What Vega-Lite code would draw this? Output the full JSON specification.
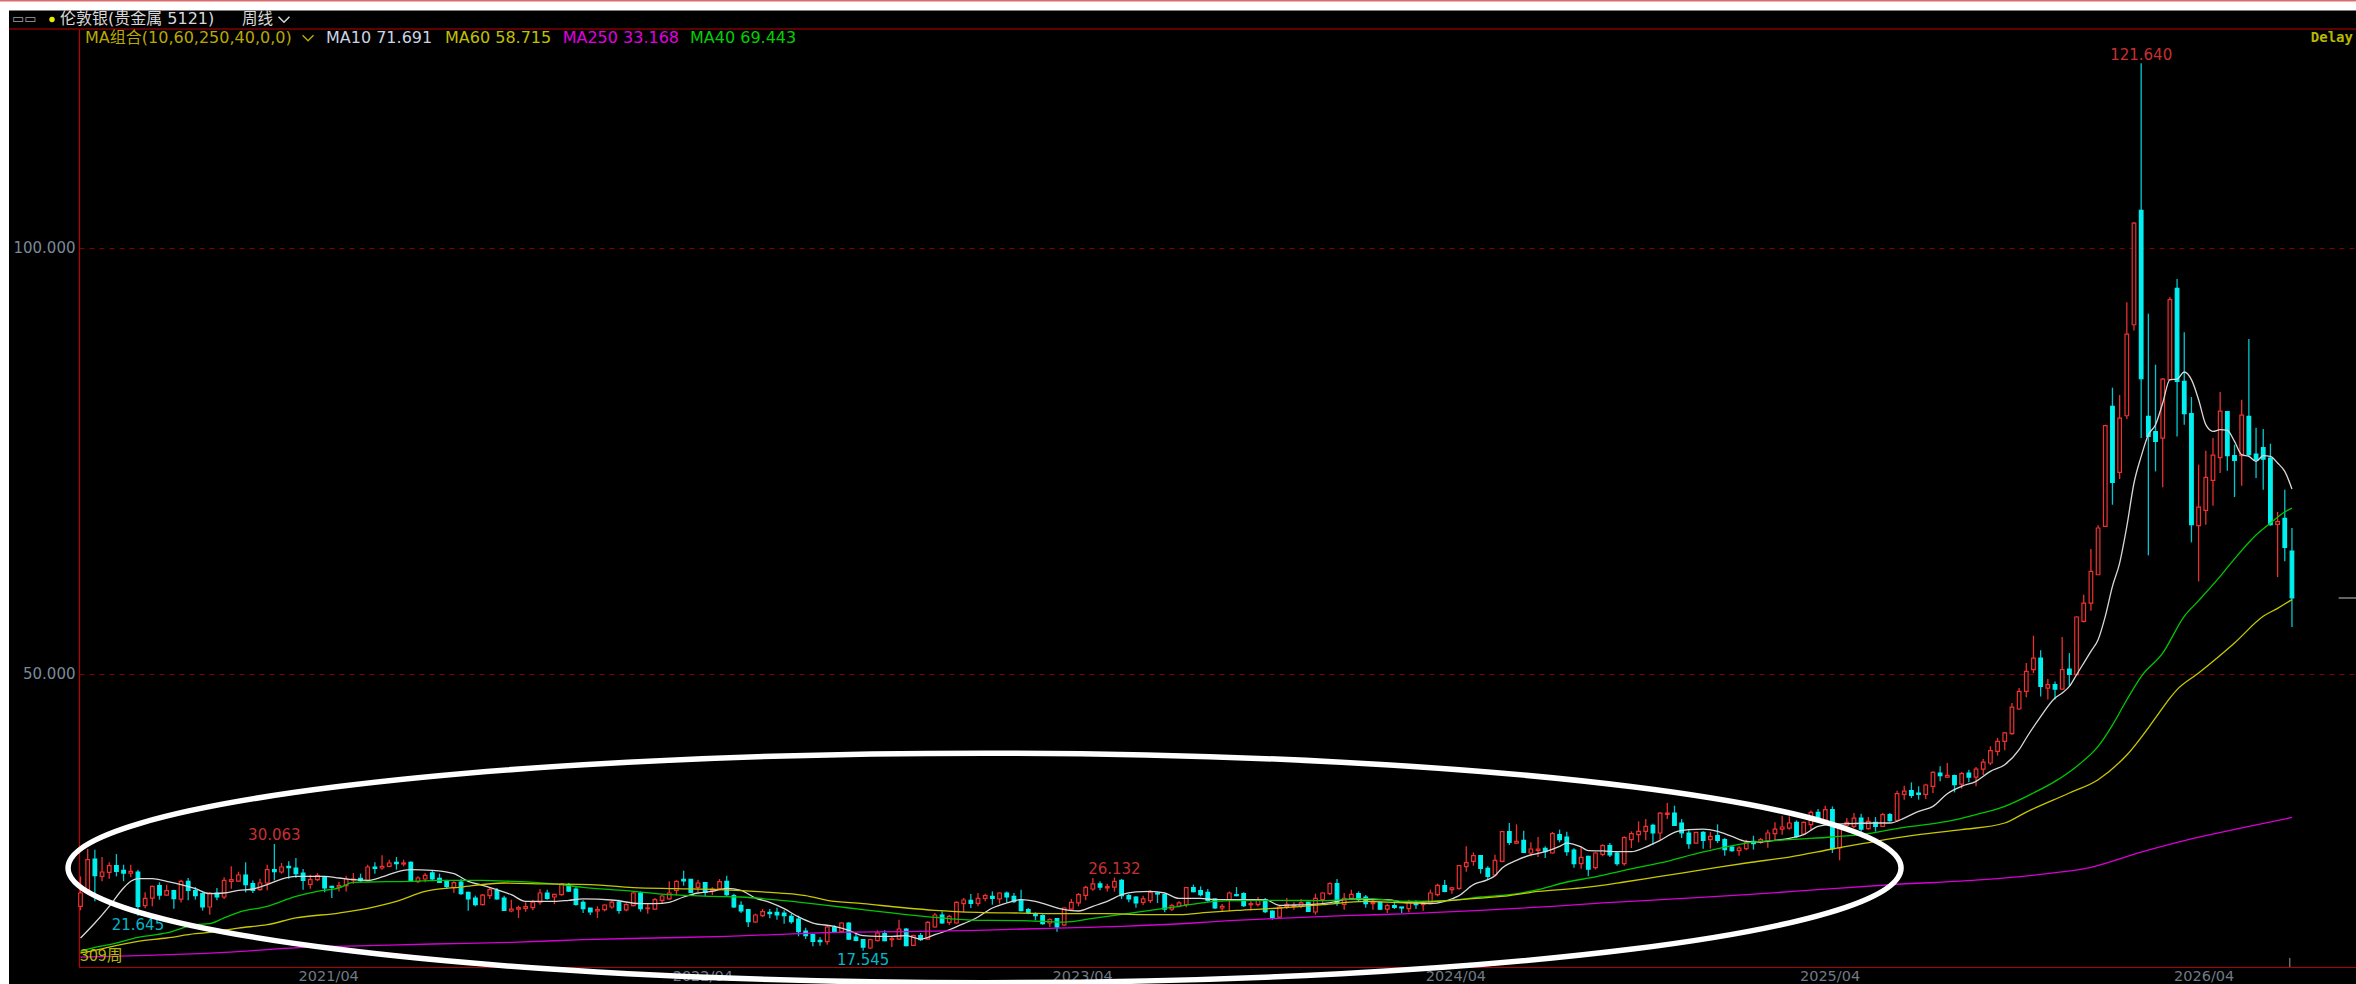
{"$schema":"https://vega.github.io/schema/vega-lite/v6.json","width":2277,"height":938,"autosize":"none","padding":{"left":79,"top":29,"right":0,"bottom":17},"background":"#000000","config":{"view":{"stroke":null},"axis":{"title":null}},
"datasets":{"one":[{"a":1}],"candles":[
{"w":0,"o":22.75,"h":26.26,"l":22.28,"c":24.31},{"w":1,"o":24.7,"h":29.47,"l":24.5,"c":28.22},{"w":2,"o":28.3,"h":29.39,"l":23.33,"c":26.34},{"w":3,"o":26.26,"h":28.53,"l":25.68,"c":26.77},{"w":4,"o":26.73,"h":27.91,"l":25.99,"c":27.52},{"w":5,"o":27.52,"h":28.88,"l":26.26,"c":26.85},{"w":6,"o":26.97,"h":27.63,"l":25.68,"c":26.65},{"w":7,"o":26.65,"h":27.63,"l":26.18,"c":26.85},{"w":8,"o":26.77,"h":27.05,"l":21.645,"c":22.75},{"w":9,"o":22.82,"h":24.39,"l":22.51,"c":23.68},
{"w":10,"o":23.72,"h":25.17,"l":22.75,"c":25.09},{"w":11,"o":25.17,"h":25.56,"l":23.53,"c":24.07},{"w":12,"o":24.07,"h":25.29,"l":24.0,"c":24.58},{"w":13,"o":24.58,"h":24.7,"l":22.47,"c":23.64},{"w":14,"o":23.6,"h":25.87,"l":23.21,"c":25.68},{"w":15,"o":25.68,"h":26.07,"l":23.45,"c":24.62},{"w":16,"o":24.58,"h":25.01,"l":23.53,"c":24.0},{"w":17,"o":24.23,"h":24.39,"l":22.24,"c":22.67},{"w":18,"o":22.67,"h":24.43,"l":21.77,"c":24.31},{"w":19,"o":24.31,"h":24.9,"l":23.45,"c":23.84},
{"w":20,"o":23.84,"h":26.15,"l":23.6,"c":25.79},{"w":21,"o":25.68,"h":27.44,"l":24.82,"c":25.87},{"w":22,"o":25.71,"h":26.81,"l":25.64,"c":26.42},{"w":23,"o":26.42,"h":27.91,"l":24.39,"c":25.29},{"w":24,"o":25.4,"h":25.79,"l":24.31,"c":24.62},{"w":25,"o":24.7,"h":25.99,"l":24.58,"c":25.48},{"w":26,"o":25.48,"h":27.63,"l":24.62,"c":27.05},{"w":27,"o":27.05,"h":30.063,"l":25.79,"c":26.81},{"w":28,"o":26.77,"h":27.83,"l":26.58,"c":27.36},{"w":29,"o":27.44,"h":28.02,"l":25.99,"c":27.28},
{"w":30,"o":27.24,"h":28.41,"l":26.07,"c":26.58},{"w":31,"o":26.65,"h":27.12,"l":24.7,"c":25.79},{"w":32,"o":25.33,"h":26.46,"l":24.82,"c":25.87},{"w":33,"o":25.87,"h":26.65,"l":25.71,"c":26.34},{"w":34,"o":26.19,"h":26.26,"l":24.39,"c":24.9},{"w":35,"o":25.09,"h":25.17,"l":23.72,"c":24.97},{"w":36,"o":25.01,"h":25.64,"l":24.5,"c":25.17},{"w":37,"o":25.17,"h":26.34,"l":24.5,"c":25.95},{"w":38,"o":25.83,"h":26.65,"l":25.4,"c":25.95},{"w":39,"o":26.03,"h":26.58,"l":25.56,"c":25.76},
{"w":40,"o":25.79,"h":27.63,"l":25.68,"c":27.36},{"w":41,"o":27.36,"h":27.91,"l":26.58,"c":27.2},{"w":42,"o":27.24,"h":28.73,"l":27.05,"c":27.44},{"w":43,"o":27.44,"h":28.22,"l":27.32,"c":27.83},{"w":44,"o":27.91,"h":28.53,"l":27.05,"c":27.75},{"w":45,"o":27.71,"h":28.22,"l":27.44,"c":27.83},{"w":46,"o":27.91,"h":28.02,"l":25.6,"c":25.68},{"w":47,"o":25.64,"h":26.26,"l":25.48,"c":26.07},{"w":48,"o":25.95,"h":26.65,"l":25.56,"c":26.38},{"w":49,"o":26.66,"h":26.97,"l":25.8,"c":25.95},
{"w":50,"o":26.03,"h":26.58,"l":25.48,"c":25.56},{"w":51,"o":25.76,"h":25.87,"l":24.78,"c":25.09},{"w":52,"o":24.97,"h":25.8,"l":24.31,"c":25.52},{"w":53,"o":25.6,"h":25.95,"l":24.11,"c":24.23},{"w":54,"o":24.39,"h":24.47,"l":22.24,"c":23.61},{"w":55,"o":23.72,"h":24.0,"l":22.75,"c":22.94},{"w":56,"o":22.94,"h":24.19,"l":22.86,"c":24.07},{"w":57,"o":24.0,"h":24.9,"l":23.61,"c":24.7},{"w":58,"o":24.58,"h":24.9,"l":23.53,"c":23.61},{"w":59,"o":23.72,"h":24.0,"l":22.2,"c":22.28},
{"w":60,"o":22.2,"h":23.53,"l":22.04,"c":22.43},{"w":61,"o":22.43,"h":22.82,"l":21.38,"c":22.59},{"w":62,"o":22.51,"h":23.22,"l":22.12,"c":22.71},{"w":63,"o":22.59,"h":23.53,"l":22.28,"c":23.25},{"w":64,"o":23.25,"h":24.78,"l":22.94,"c":24.31},{"w":65,"o":24.31,"h":24.7,"l":23.53,"c":23.68},{"w":66,"o":23.84,"h":24.23,"l":23.02,"c":24.15},{"w":67,"o":24.11,"h":25.48,"l":24.0,"c":25.37},{"w":68,"o":25.29,"h":25.48,"l":24.47,"c":24.54},{"w":69,"o":24.78,"h":25.01,"l":22.82,"c":22.98},
{"w":70,"o":23.22,"h":23.45,"l":21.96,"c":22.47},{"w":71,"o":22.55,"h":22.55,"l":21.73,"c":22.08},{"w":72,"o":22.2,"h":22.75,"l":21.38,"c":22.36},{"w":73,"o":22.36,"h":22.98,"l":22.16,"c":22.9},{"w":74,"o":22.67,"h":23.41,"l":22.47,"c":23.25},{"w":75,"o":23.25,"h":23.53,"l":21.89,"c":22.28},{"w":76,"o":22.32,"h":23.1,"l":22.16,"c":22.94},{"w":77,"o":22.82,"h":24.5,"l":22.75,"c":24.31},{"w":78,"o":24.31,"h":24.5,"l":22.12,"c":22.47},{"w":79,"o":22.47,"h":23.02,"l":21.89,"c":22.55},
{"w":80,"o":22.43,"h":23.72,"l":22.36,"c":23.53},{"w":81,"o":23.45,"h":24.11,"l":23.14,"c":23.96},{"w":82,"o":23.61,"h":25.68,"l":23.53,"c":24.31},{"w":83,"o":24.62,"h":25.8,"l":24.04,"c":25.68},{"w":84,"o":25.91,"h":26.93,"l":25.17,"c":25.72},{"w":85,"o":25.91,"h":25.95,"l":24.31,"c":24.39},{"w":86,"o":24.97,"h":25.87,"l":24.43,"c":25.48},{"w":87,"o":25.52,"h":25.6,"l":23.92,"c":24.39},{"w":88,"o":24.62,"h":24.97,"l":24.07,"c":24.78},{"w":89,"o":24.82,"h":25.95,"l":24.7,"c":25.64},
{"w":90,"o":25.68,"h":26.34,"l":23.92,"c":24.11},{"w":91,"o":24.0,"h":24.23,"l":22.55,"c":22.67},{"w":92,"o":22.86,"h":23.33,"l":21.96,"c":22.2},{"w":93,"o":22.36,"h":22.36,"l":20.32,"c":20.95},{"w":94,"o":20.91,"h":21.89,"l":20.79,"c":21.73},{"w":95,"o":21.65,"h":22.43,"l":21.5,"c":22.12},{"w":96,"o":22.04,"h":22.43,"l":21.34,"c":21.89},{"w":97,"o":22.04,"h":22.59,"l":21.18,"c":21.73},{"w":98,"o":21.96,"h":22.28,"l":20.71,"c":21.65},{"w":99,"o":21.57,"h":21.89,"l":20.71,"c":20.95},
{"w":100,"o":21.26,"h":21.65,"l":19.23,"c":19.77},{"w":101,"o":19.85,"h":20.24,"l":18.91,"c":19.3},{"w":102,"o":19.42,"h":19.54,"l":18.05,"c":18.64},{"w":103,"o":18.76,"h":19.11,"l":18.13,"c":18.6},{"w":104,"o":18.6,"h":20.56,"l":18.25,"c":20.32},{"w":105,"o":20.28,"h":20.52,"l":19.62,"c":19.73},{"w":106,"o":19.81,"h":20.87,"l":19.7,"c":20.79},{"w":107,"o":20.79,"h":20.87,"l":18.84,"c":18.91},{"w":108,"o":19.15,"h":19.54,"l":18.64,"c":18.76},{"w":109,"o":18.84,"h":18.91,"l":17.545,"c":17.97},
{"w":110,"o":17.86,"h":18.95,"l":17.74,"c":18.84},{"w":111,"o":18.72,"h":19.93,"l":18.64,"c":19.62},{"w":112,"o":19.54,"h":19.93,"l":18.64,"c":18.72},{"w":113,"o":18.84,"h":19.23,"l":17.97,"c":18.95},{"w":114,"o":18.91,"h":21.18,"l":18.84,"c":20.09},{"w":115,"o":20.09,"h":20.2,"l":18.05,"c":18.13},{"w":116,"o":18.17,"h":19.42,"l":18.13,"c":19.3},{"w":117,"o":19.3,"h":19.62,"l":18.68,"c":18.84},{"w":118,"o":18.91,"h":20.99,"l":18.84,"c":20.87},{"w":119,"o":20.32,"h":21.96,"l":20.24,"c":21.73},
{"w":120,"o":21.73,"h":22.16,"l":20.71,"c":20.79},{"w":121,"o":20.87,"h":21.73,"l":20.56,"c":21.57},{"w":122,"o":20.79,"h":23.33,"l":20.71,"c":23.22},{"w":123,"o":23.06,"h":23.72,"l":22.04,"c":23.49},{"w":124,"o":23.45,"h":24.19,"l":22.55,"c":23.1},{"w":125,"o":23.1,"h":24.31,"l":22.75,"c":23.68},{"w":126,"o":23.68,"h":24.23,"l":23.33,"c":24.0},{"w":127,"o":23.92,"h":24.5,"l":22.94,"c":23.68},{"w":128,"o":23.61,"h":24.39,"l":23.06,"c":24.31},{"w":129,"o":24.31,"h":24.5,"l":23.25,"c":23.84},
{"w":130,"o":23.92,"h":24.31,"l":23.14,"c":23.29},{"w":131,"o":23.53,"h":24.7,"l":22.16,"c":22.24},{"w":132,"o":22.36,"h":22.55,"l":21.81,"c":22.04},{"w":133,"o":21.81,"h":22.04,"l":21.1,"c":21.65},{"w":134,"o":21.65,"h":21.81,"l":20.6,"c":20.71},{"w":135,"o":20.79,"h":21.34,"l":20.32,"c":21.18},{"w":136,"o":21.3,"h":21.34,"l":19.77,"c":20.32},{"w":137,"o":20.56,"h":22.59,"l":20.48,"c":22.55},{"w":138,"o":22.43,"h":23.61,"l":22.36,"c":23.22},{"w":139,"o":23.14,"h":24.31,"l":22.75,"c":24.11},
{"w":140,"o":24.04,"h":25.17,"l":23.45,"c":24.97},{"w":141,"o":24.78,"h":26.07,"l":24.58,"c":25.37},{"w":142,"o":25.37,"h":25.68,"l":24.62,"c":25.01},{"w":143,"o":24.9,"h":25.4,"l":24.5,"c":25.05},{"w":144,"o":25.01,"h":26.132,"l":24.47,"c":25.68},{"w":145,"o":25.8,"h":25.95,"l":23.61,"c":24.0},{"w":146,"o":24.0,"h":24.19,"l":23.22,"c":23.61},{"w":147,"o":23.84,"h":23.92,"l":22.59,"c":23.14},{"w":148,"o":23.22,"h":24.0,"l":22.9,"c":23.61},{"w":149,"o":23.41,"h":24.62,"l":23.14,"c":24.39},
{"w":150,"o":24.31,"h":24.43,"l":23.14,"c":24.19},{"w":151,"o":24.11,"h":24.23,"l":22.04,"c":22.43},{"w":152,"o":22.43,"h":23.06,"l":22.2,"c":22.82},{"w":153,"o":22.75,"h":23.33,"l":22.63,"c":23.14},{"w":154,"o":22.94,"h":25.01,"l":22.63,"c":24.94},{"w":155,"o":24.94,"h":25.29,"l":24.39,"c":24.47},{"w":156,"o":24.58,"h":25.09,"l":23.92,"c":24.11},{"w":157,"o":24.39,"h":24.78,"l":23.29,"c":23.45},{"w":158,"o":23.61,"h":23.68,"l":22.43,"c":22.55},{"w":159,"o":22.55,"h":23.02,"l":22.12,"c":22.75},
{"w":160,"o":23.53,"h":24.5,"l":22.16,"c":24.31},{"w":161,"o":24.11,"h":25.01,"l":23.92,"c":24.0},{"w":162,"o":24.23,"h":24.39,"l":22.67,"c":22.82},{"w":163,"o":22.94,"h":23.33,"l":22.27,"c":23.06},{"w":164,"o":22.94,"h":23.84,"l":22.74,"c":23.45},{"w":165,"o":23.53,"h":23.72,"l":21.96,"c":22.12},{"w":166,"o":22.2,"h":22.27,"l":21.18,"c":21.38},{"w":167,"o":21.49,"h":22.82,"l":21.42,"c":22.67},{"w":168,"o":22.74,"h":23.72,"l":22.43,"c":22.98},{"w":169,"o":22.74,"h":23.25,"l":22.35,"c":22.82},
{"w":170,"o":22.74,"h":23.6,"l":22.51,"c":23.14},{"w":171,"o":23.21,"h":23.29,"l":22.08,"c":22.16},{"w":172,"o":22.08,"h":24.23,"l":21.77,"c":23.68},{"w":173,"o":23.53,"h":24.39,"l":23.14,"c":24.31},{"w":174,"o":24.23,"h":25.56,"l":24.07,"c":25.4},{"w":175,"o":25.4,"h":25.95,"l":22.82,"c":23.14},{"w":176,"o":22.98,"h":24.31,"l":22.35,"c":23.68},{"w":177,"o":23.68,"h":24.7,"l":23.53,"c":24.15},{"w":178,"o":24.23,"h":24.5,"l":23.37,"c":23.53},{"w":179,"o":23.84,"h":24.07,"l":22.59,"c":23.06},
{"w":180,"o":23.06,"h":23.72,"l":22.35,"c":23.21},{"w":181,"o":23.21,"h":23.33,"l":22.35,"c":22.43},{"w":182,"o":22.43,"h":23.06,"l":21.96,"c":22.82},{"w":183,"o":22.82,"h":23.33,"l":22.43,"c":22.63},{"w":184,"o":22.67,"h":22.67,"l":21.96,"c":22.55},{"w":185,"o":22.47,"h":23.53,"l":22.04,"c":23.33},{"w":186,"o":23.21,"h":23.45,"l":22.43,"c":22.94},{"w":187,"o":22.94,"h":23.33,"l":22.24,"c":23.14},{"w":188,"o":23.14,"h":24.7,"l":22.98,"c":24.31},{"w":189,"o":24.11,"h":25.4,"l":23.92,"c":25.21},
{"w":190,"o":25.17,"h":25.84,"l":24.39,"c":24.5},{"w":191,"o":24.7,"h":25.01,"l":24.23,"c":24.9},{"w":192,"o":24.86,"h":27.59,"l":24.7,"c":27.51},{"w":193,"o":27.4,"h":29.78,"l":26.81,"c":27.87},{"w":194,"o":28.02,"h":29.08,"l":27.51,"c":28.69},{"w":195,"o":28.69,"h":28.77,"l":26.58,"c":27.2},{"w":196,"o":27.2,"h":27.44,"l":25.95,"c":26.26},{"w":197,"o":26.42,"h":28.81,"l":26.26,"c":28.14},{"w":198,"o":28.02,"h":31.62,"l":27.91,"c":31.5},{"w":199,"o":31.5,"h":32.52,"l":29.94,"c":30.25},
{"w":200,"o":30.17,"h":32.36,"l":30.06,"c":30.37},{"w":201,"o":30.49,"h":31.62,"l":29.0,"c":29.08},{"w":202,"o":29.0,"h":30.25,"l":28.61,"c":29.47},{"w":203,"o":29.31,"h":30.88,"l":28.53,"c":29.47},{"w":204,"o":29.55,"h":29.78,"l":28.41,"c":29.16},{"w":205,"o":29.0,"h":31.46,"l":28.92,"c":31.27},{"w":206,"o":31.15,"h":31.74,"l":30.25,"c":30.57},{"w":207,"o":30.88,"h":31.5,"l":28.69,"c":29.16},{"w":208,"o":29.35,"h":29.55,"l":27.28,"c":27.75},{"w":209,"o":27.75,"h":29.71,"l":27.16,"c":28.49},
{"w":210,"o":28.61,"h":28.69,"l":26.26,"c":27.12},{"w":211,"o":27.28,"h":29.08,"l":27.05,"c":29.0},{"w":212,"o":28.84,"h":30.02,"l":28.61,"c":29.86},{"w":213,"o":29.86,"h":30.17,"l":28.53,"c":28.77},{"w":214,"o":29.0,"h":29.2,"l":27.51,"c":27.75},{"w":215,"o":27.75,"h":30.96,"l":27.51,"c":30.8},{"w":216,"o":30.56,"h":31.54,"l":29.59,"c":31.27},{"w":217,"o":31.15,"h":32.71,"l":30.25,"c":31.54},{"w":218,"o":31.54,"h":32.99,"l":30.49,"c":32.13},{"w":219,"o":32.24,"h":32.44,"l":29.98,"c":31.35},
{"w":220,"o":31.35,"h":33.77,"l":30.56,"c":33.69},{"w":221,"o":33.53,"h":34.86,"l":32.99,"c":33.69},{"w":222,"o":33.69,"h":34.55,"l":32.21,"c":32.24},{"w":223,"o":32.52,"h":32.99,"l":30.76,"c":31.35},{"w":224,"o":31.35,"h":31.66,"l":29.51,"c":30.09},{"w":225,"o":30.17,"h":31.46,"l":30.13,"c":31.42},{"w":226,"o":31.42,"h":31.54,"l":29.51,"c":30.48},{"w":227,"o":30.56,"h":31.46,"l":29.51,"c":30.95},{"w":228,"o":31.03,"h":32.36,"l":30.17,"c":30.48},{"w":229,"o":30.56,"h":30.76,"l":28.69,"c":29.39},
{"w":230,"o":29.7,"h":29.86,"l":29.16,"c":29.27},{"w":231,"o":29.27,"h":29.78,"l":28.69,"c":29.59},{"w":232,"o":29.51,"h":30.56,"l":29.31,"c":30.25},{"w":233,"o":30.37,"h":31.03,"l":29.39,"c":30.09},{"w":234,"o":30.25,"h":30.76,"l":30.09,"c":30.56},{"w":235,"o":30.37,"h":31.74,"l":29.62,"c":31.35},{"w":236,"o":31.27,"h":32.6,"l":30.49,"c":31.81},{"w":237,"o":31.81,"h":33.38,"l":31.15,"c":32.05},{"w":238,"o":31.93,"h":33.3,"l":31.74,"c":32.52},{"w":239,"o":32.6,"h":32.83,"l":30.76,"c":30.95},
{"w":240,"o":31.23,"h":32.71,"l":31.15,"c":32.6},{"w":241,"o":32.32,"h":34.0,"l":31.66,"c":33.77},{"w":242,"o":33.77,"h":34.16,"l":32.52,"c":32.91},{"w":243,"o":32.83,"h":34.55,"l":32.67,"c":34.08},{"w":244,"o":34.08,"h":34.47,"l":29.0,"c":29.51},{"w":245,"o":29.59,"h":32.32,"l":28.14,"c":32.13},{"w":246,"o":32.28,"h":33.1,"l":32.05,"c":32.6},{"w":247,"o":32.13,"h":33.69,"l":31.93,"c":33.1},{"w":248,"o":33.1,"h":33.61,"l":31.5,"c":31.81},{"w":249,"o":31.85,"h":33.22,"l":31.74,"c":32.71},
{"w":250,"o":32.6,"h":33.22,"l":31.5,"c":32.13},{"w":251,"o":32.13,"h":33.69,"l":32.05,"c":33.5},{"w":252,"o":33.5,"h":33.69,"l":32.67,"c":32.79},{"w":253,"o":32.83,"h":36.31,"l":32.67,"c":35.96},{"w":254,"o":35.88,"h":36.9,"l":35.26,"c":36.27},{"w":255,"o":36.31,"h":37.29,"l":35.45,"c":35.76},{"w":256,"o":36.04,"h":36.82,"l":35.26,"c":35.88},{"w":257,"o":35.88,"h":37.13,"l":35.33,"c":36.98},{"w":258,"o":36.82,"h":38.58,"l":36.04,"c":38.46},{"w":259,"o":38.38,"h":39.17,"l":37.41,"c":38.07},
{"w":260,"o":37.91,"h":39.56,"l":37.84,"c":38.11},{"w":261,"o":38.07,"h":38.19,"l":36.11,"c":37.01},{"w":262,"o":37.09,"h":38.5,"l":36.58,"c":38.3},{"w":263,"o":38.38,"h":38.77,"l":37.29,"c":37.91},{"w":264,"o":37.91,"h":39.09,"l":36.82,"c":38.85},{"w":265,"o":38.85,"h":40.03,"l":38.15,"c":39.67},{"w":266,"o":39.56,"h":41.51,"l":39.32,"c":41.0},{"w":267,"o":40.92,"h":42.49,"l":40.42,"c":42.1},{"w":268,"o":42.1,"h":43.15,"l":41.04,"c":43.08},{"w":269,"o":43.0,"h":46.59,"l":42.88,"c":46.12},
{"w":270,"o":45.89,"h":48.35,"l":45.81,"c":47.96},{"w":271,"o":47.96,"h":51.29,"l":47.26,"c":50.31},{"w":272,"o":50.5,"h":54.49,"l":50.11,"c":51.87},{"w":273,"o":51.87,"h":52.77,"l":47.37,"c":48.54},{"w":274,"o":48.35,"h":49.4,"l":47.0,"c":48.74},{"w":275,"o":48.74,"h":49.13,"l":47.0,"c":48.23},{"w":276,"o":48.23,"h":54.33,"l":48.15,"c":50.5},{"w":277,"o":50.58,"h":52.45,"l":48.54,"c":49.95},{"w":278,"o":49.91,"h":56.76,"l":49.8,"c":56.68},{"w":279,"o":56.17,"h":59.3,"l":56.05,"c":58.32},
{"w":280,"o":58.32,"h":64.65,"l":57.42,"c":62.03},{"w":281,"o":61.64,"h":67.43,"l":61.64,"c":67.12},{"w":282,"o":67.31,"h":79.24,"l":67.23,"c":79.12},{"w":283,"o":81.39,"h":83.58,"l":69.85,"c":72.47},{"w":284,"o":73.65,"h":82.72,"l":72.86,"c":80.02},{"w":285,"o":80.29,"h":93.59,"l":79.9,"c":89.87},{"w":286,"o":90.96,"h":102.97,"l":90.3,"c":102.89},{"w":287,"o":104.37,"h":121.64,"l":77.67,"c":84.63},{"w":288,"o":80.21,"h":92.26,"l":63.91,"c":77.87},{"w":289,"o":78.42,"h":86.28,"l":73.76,"c":77.28},
{"w":290,"o":77.67,"h":84.71,"l":71.89,"c":84.59},{"w":291,"o":84.51,"h":94.21,"l":84.43,"c":93.9},{"w":292,"o":95.23,"h":96.32,"l":77.86,"c":84.32},{"w":293,"o":84.32,"h":90.07,"l":79.24,"c":80.53},{"w":294,"o":80.53,"h":82.48,"l":65.44,"c":67.51},{"w":295,"o":67.39,"h":74.55,"l":60.86,"c":69.58},{"w":296,"o":69.19,"h":76.19,"l":67.51,"c":73.06},{"w":297,"o":72.71,"h":77.67,"l":69.74,"c":75.68},{"w":298,"o":75.37,"h":83.07,"l":73.57,"c":80.84},{"w":299,"o":80.76,"h":80.76,"l":73.84,"c":75.6},
{"w":300,"o":75.6,"h":76.89,"l":70.75,"c":75.05},{"w":301,"o":75.6,"h":82.17,"l":72.08,"c":80.37},{"w":302,"o":80.21,"h":89.29,"l":75.52,"c":75.72},{"w":303,"o":75.8,"h":78.89,"l":72.98,"c":75.13},{"w":304,"o":76.54,"h":78.73,"l":71.61,"c":75.21},{"w":305,"o":75.33,"h":77.01,"l":67.39,"c":67.51},{"w":306,"o":67.55,"h":69.0,"l":61.37,"c":67.86},{"w":307,"o":68.25,"h":71.61,"l":63.21,"c":64.85},{"w":308,"o":64.42,"h":67.12,"l":55.5,"c":58.91}
],
"ma":[
{"w":0,"s":"MA10","v":19.03},{"w":2,"s":"MA10","v":20.79},{"w":4,"s":"MA10","v":22.75},{"w":6,"s":"MA10","v":24.9},{"w":7,"s":"MA10","v":25.68},{"w":8,"s":"MA10","v":25.99},{"w":10,"s":"MA10","v":25.99},{"w":12,"s":"MA10","v":25.68},{"w":14,"s":"MA10","v":25.29},{"w":16,"s":"MA10","v":24.82},{"w":18,"s":"MA10","v":24.23},{"w":20,"s":"MA10","v":24.31},{"w":22,"s":"MA10","v":24.62},{"w":24,"s":"MA10","v":24.78},{"w":26,"s":"MA10","v":25.29},{"w":28,"s":"MA10","v":25.95},{"w":30,"s":"MA10","v":26.26},{"w":34,"s":"MA10","v":26.26},{"w":36,"s":"MA10","v":26.07},{"w":38,"s":"MA10","v":25.87},{"w":40,"s":"MA10","v":25.79},{"w":42,"s":"MA10","v":26.19},{"w":44,"s":"MA10","v":26.77},{"w":46,"s":"MA10","v":27.05},{"w":49,"s":"MA10","v":26.97},{"w":52,"s":"MA10","v":26.58},{"w":54,"s":"MA10","v":25.68},{"w":56,"s":"MA10","v":25.21},{"w":58,"s":"MA10","v":24.7},{"w":60,"s":"MA10","v":24.11},{"w":62,"s":"MA10","v":23.33},{"w":66,"s":"MA10","v":23.33},{"w":68,"s":"MA10","v":23.45},{"w":70,"s":"MA10","v":23.61},{"w":74,"s":"MA10","v":23.49},{"w":78,"s":"MA10","v":23.06},{"w":80,"s":"MA10","v":23.06},{"w":82,"s":"MA10","v":23.22},{"w":84,"s":"MA10","v":23.84},{"w":86,"s":"MA10","v":24.31},{"w":88,"s":"MA10","v":24.5},{"w":90,"s":"MA10","v":24.86},{"w":92,"s":"MA10","v":24.62},{"w":94,"s":"MA10","v":23.72},{"w":96,"s":"MA10","v":23.22},{"w":98,"s":"MA10","v":22.47},{"w":100,"s":"MA10","v":21.5},{"w":102,"s":"MA10","v":20.79},{"w":105,"s":"MA10","v":20.4},{"w":107,"s":"MA10","v":19.93},{"w":109,"s":"MA10","v":19.3},{"w":111,"s":"MA10","v":19.23},{"w":113,"s":"MA10","v":19.23},{"w":115,"s":"MA10","v":19.3},{"w":117,"s":"MA10","v":18.91},{"w":119,"s":"MA10","v":19.42},{"w":121,"s":"MA10","v":20.0},{"w":123,"s":"MA10","v":20.71},{"w":125,"s":"MA10","v":21.5},{"w":127,"s":"MA10","v":22.55},{"w":129,"s":"MA10","v":23.14},{"w":131,"s":"MA10","v":23.53},{"w":133,"s":"MA10","v":23.33},{"w":135,"s":"MA10","v":22.82},{"w":137,"s":"MA10","v":22.36},{"w":139,"s":"MA10","v":22.2},{"w":141,"s":"MA10","v":22.75},{"w":143,"s":"MA10","v":23.33},{"w":145,"s":"MA10","v":24.11},{"w":147,"s":"MA10","v":24.43},{"w":149,"s":"MA10","v":24.5},{"w":151,"s":"MA10","v":24.31},{"w":153,"s":"MA10","v":23.68},{"w":156,"s":"MA10","v":23.68},{"w":158,"s":"MA10","v":23.53},{"w":160,"s":"MA10","v":23.53},{"w":165,"s":"MA10","v":23.53},{"w":167,"s":"MA10","v":22.86},{"w":169,"s":"MA10","v":22.9},{"w":171,"s":"MA10","v":22.94},{"w":173,"s":"MA10","v":23.06},{"w":175,"s":"MA10","v":23.33},{"w":176,"s":"MA10","v":23.53},{"w":178,"s":"MA10","v":23.61},{"w":180,"s":"MA10","v":23.53},{"w":182,"s":"MA10","v":23.53},{"w":184,"s":"MA10","v":23.25},{"w":186,"s":"MA10","v":23.14},{"w":188,"s":"MA10","v":23.06},{"w":190,"s":"MA10","v":23.33},{"w":192,"s":"MA10","v":24.0},{"w":194,"s":"MA10","v":25.29},{"w":196,"s":"MA10","v":25.87},{"w":197,"s":"MA10","v":26.34},{"w":198,"s":"MA10","v":27.24},{"w":200,"s":"MA10","v":28.14},{"w":202,"s":"MA10","v":28.77},{"w":204,"s":"MA10","v":29.16},{"w":206,"s":"MA10","v":29.78},{"w":207,"s":"MA10","v":30.17},{"w":209,"s":"MA10","v":29.71},{"w":210,"s":"MA10","v":29.27},{"w":212,"s":"MA10","v":29.24},{"w":214,"s":"MA10","v":29.16},{"w":216,"s":"MA10","v":29.16},{"w":218,"s":"MA10","v":29.7},{"w":220,"s":"MA10","v":30.48},{"w":222,"s":"MA10","v":31.42},{"w":224,"s":"MA10","v":31.74},{"w":226,"s":"MA10","v":31.81},{"w":228,"s":"MA10","v":31.54},{"w":230,"s":"MA10","v":30.95},{"w":232,"s":"MA10","v":30.37},{"w":234,"s":"MA10","v":30.29},{"w":236,"s":"MA10","v":30.49},{"w":238,"s":"MA10","v":30.72},{"w":240,"s":"MA10","v":31.15},{"w":242,"s":"MA10","v":32.13},{"w":244,"s":"MA10","v":32.36},{"w":246,"s":"MA10","v":32.44},{"w":250,"s":"MA10","v":32.52},{"w":252,"s":"MA10","v":32.52},{"w":254,"s":"MA10","v":33.1},{"w":256,"s":"MA10","v":33.89},{"w":258,"s":"MA10","v":34.47},{"w":260,"s":"MA10","v":35.96},{"w":262,"s":"MA10","v":36.82},{"w":264,"s":"MA10","v":37.41},{"w":266,"s":"MA10","v":38.58},{"w":268,"s":"MA10","v":39.36},{"w":270,"s":"MA10","v":41.12},{"w":271,"s":"MA10","v":42.49},{"w":273,"s":"MA10","v":45.0},{"w":275,"s":"MA10","v":47.17},{"w":276,"s":"MA10","v":47.76},{"w":277,"s":"MA10","v":48.54},{"w":278,"s":"MA10","v":49.91},{"w":279,"s":"MA10","v":51.28},{"w":280,"s":"MA10","v":52.65},{"w":281,"s":"MA10","v":54.02},{"w":282,"s":"MA10","v":56.76},{"w":283,"s":"MA10","v":60.27},{"w":284,"s":"MA10","v":63.01},{"w":285,"s":"MA10","v":67.31},{"w":286,"s":"MA10","v":72.4},{"w":287,"s":"MA10","v":75.52},{"w":288,"s":"MA10","v":78.06},{"w":289,"s":"MA10","v":79.24},{"w":290,"s":"MA10","v":81.78},{"w":291,"s":"MA10","v":84.52},{"w":292,"s":"MA10","v":84.59},{"w":293,"s":"MA10","v":85.42},{"w":294,"s":"MA10","v":84.52},{"w":295,"s":"MA10","v":82.17},{"w":296,"s":"MA10","v":79.24},{"w":297,"s":"MA10","v":78.46},{"w":298,"s":"MA10","v":78.65},{"w":299,"s":"MA10","v":78.57},{"w":300,"s":"MA10","v":77.28},{"w":301,"s":"MA10","v":75.72},{"w":302,"s":"MA10","v":75.52},{"w":303,"s":"MA10","v":74.94},{"w":304,"s":"MA10","v":75.6},{"w":305,"s":"MA10","v":75.52},{"w":306,"s":"MA10","v":74.74},{"w":307,"s":"MA10","v":73.76},{"w":308,"s":"MA10","v":71.691},
{"w":0,"s":"MA40","v":17.47},{"w":2,"s":"MA40","v":17.94},{"w":4,"s":"MA40","v":18.25},{"w":8,"s":"MA40","v":19.11},{"w":12,"s":"MA40","v":19.62},{"w":16,"s":"MA40","v":20.59},{"w":18,"s":"MA40","v":20.71},{"w":20,"s":"MA40","v":21.38},{"w":22,"s":"MA40","v":22.04},{"w":26,"s":"MA40","v":22.75},{"w":30,"s":"MA40","v":23.92},{"w":33,"s":"MA40","v":24.5},{"w":36,"s":"MA40","v":24.9},{"w":38,"s":"MA40","v":25.56},{"w":40,"s":"MA40","v":25.6},{"w":46,"s":"MA40","v":25.68},{"w":50,"s":"MA40","v":25.8},{"w":56,"s":"MA40","v":25.8},{"w":60,"s":"MA40","v":25.68},{"w":66,"s":"MA40","v":25.37},{"w":70,"s":"MA40","v":24.97},{"w":76,"s":"MA40","v":24.58},{"w":82,"s":"MA40","v":24.11},{"w":88,"s":"MA40","v":23.92},{"w":92,"s":"MA40","v":23.84},{"w":98,"s":"MA40","v":23.41},{"w":104,"s":"MA40","v":22.86},{"w":109,"s":"MA40","v":22.35},{"w":115,"s":"MA40","v":21.77},{"w":119,"s":"MA40","v":21.45},{"w":125,"s":"MA40","v":21.1},{"w":131,"s":"MA40","v":21.07},{"w":137,"s":"MA40","v":20.9},{"w":141,"s":"MA40","v":21.34},{"w":145,"s":"MA40","v":21.8},{"w":149,"s":"MA40","v":22.28},{"w":153,"s":"MA40","v":22.75},{"w":157,"s":"MA40","v":23.25},{"w":160,"s":"MA40","v":23.41},{"w":167,"s":"MA40","v":23.45},{"w":173,"s":"MA40","v":23.41},{"w":179,"s":"MA40","v":23.64},{"w":185,"s":"MA40","v":23.33},{"w":191,"s":"MA40","v":23.45},{"w":195,"s":"MA40","v":23.84},{"w":199,"s":"MA40","v":24.11},{"w":203,"s":"MA40","v":24.7},{"w":207,"s":"MA40","v":25.6},{"w":211,"s":"MA40","v":26.19},{"w":215,"s":"MA40","v":26.97},{"w":220,"s":"MA40","v":27.83},{"w":226,"s":"MA40","v":29.12},{"w":232,"s":"MA40","v":30.17},{"w":238,"s":"MA40","v":30.56},{"w":244,"s":"MA40","v":30.88},{"w":248,"s":"MA40","v":31.15},{"w":254,"s":"MA40","v":32.01},{"w":260,"s":"MA40","v":32.71},{"w":264,"s":"MA40","v":33.5},{"w":268,"s":"MA40","v":34.47},{"w":272,"s":"MA40","v":36.04},{"w":275,"s":"MA40","v":37.4},{"w":278,"s":"MA40","v":39.16},{"w":281,"s":"MA40","v":41.5},{"w":283,"s":"MA40","v":44.0},{"w":285,"s":"MA40","v":46.98},{"w":287,"s":"MA40","v":49.7},{"w":290,"s":"MA40","v":52.45},{"w":293,"s":"MA40","v":56.76},{"w":295,"s":"MA40","v":58.6},{"w":298,"s":"MA40","v":61.45},{"w":300,"s":"MA40","v":63.5},{"w":303,"s":"MA40","v":66.3},{"w":305,"s":"MA40","v":67.7},{"w":307,"s":"MA40","v":69.0},{"w":308,"s":"MA40","v":69.443},
{"w":0,"s":"MA60","v":17.27},{"w":2,"s":"MA60","v":17.58},{"w":4,"s":"MA60","v":17.97},{"w":8,"s":"MA60","v":18.64},{"w":12,"s":"MA60","v":19.03},{"w":16,"s":"MA60","v":19.54},{"w":18,"s":"MA60","v":19.69},{"w":22,"s":"MA60","v":20.2},{"w":26,"s":"MA60","v":20.59},{"w":30,"s":"MA60","v":21.38},{"w":36,"s":"MA60","v":21.96},{"w":40,"s":"MA60","v":22.51},{"w":44,"s":"MA60","v":23.33},{"w":48,"s":"MA60","v":24.5},{"w":53,"s":"MA60","v":25.01},{"w":59,"s":"MA60","v":25.48},{"w":65,"s":"MA60","v":25.37},{"w":71,"s":"MA60","v":25.29},{"w":77,"s":"MA60","v":24.94},{"w":83,"s":"MA60","v":24.82},{"w":89,"s":"MA60","v":24.7},{"w":95,"s":"MA60","v":24.43},{"w":101,"s":"MA60","v":24.0},{"w":104,"s":"MA60","v":23.45},{"w":109,"s":"MA60","v":23.06},{"w":115,"s":"MA60","v":22.55},{"w":119,"s":"MA60","v":22.28},{"w":125,"s":"MA60","v":22.04},{"w":131,"s":"MA60","v":21.96},{"w":137,"s":"MA60","v":21.88},{"w":143,"s":"MA60","v":21.88},{"w":148,"s":"MA60","v":21.77},{"w":153,"s":"MA60","v":21.77},{"w":157,"s":"MA60","v":22.04},{"w":161,"s":"MA60","v":22.27},{"w":167,"s":"MA60","v":22.55},{"w":173,"s":"MA60","v":22.94},{"w":179,"s":"MA60","v":23.33},{"w":185,"s":"MA60","v":23.14},{"w":191,"s":"MA60","v":23.45},{"w":195,"s":"MA60","v":23.72},{"w":199,"s":"MA60","v":24.0},{"w":203,"s":"MA60","v":24.5},{"w":209,"s":"MA60","v":24.9},{"w":215,"s":"MA60","v":25.6},{"w":220,"s":"MA60","v":26.26},{"w":226,"s":"MA60","v":27.04},{"w":232,"s":"MA60","v":27.83},{"w":238,"s":"MA60","v":28.53},{"w":244,"s":"MA60","v":29.47},{"w":250,"s":"MA60","v":30.37},{"w":256,"s":"MA60","v":31.15},{"w":262,"s":"MA60","v":31.74},{"w":268,"s":"MA60","v":32.52},{"w":271,"s":"MA60","v":33.8},{"w":277,"s":"MA60","v":36.04},{"w":281,"s":"MA60","v":37.6},{"w":285,"s":"MA60","v":40.5},{"w":289,"s":"MA60","v":44.84},{"w":291,"s":"MA60","v":47.17},{"w":292,"s":"MA60","v":48.16},{"w":295,"s":"MA60","v":50.11},{"w":300,"s":"MA60","v":53.63},{"w":304,"s":"MA60","v":56.76},{"w":306,"s":"MA60","v":57.7},{"w":308,"s":"MA60","v":58.715},
{"w":0,"s":"MA250","v":16.8},{"w":8,"s":"MA250","v":16.96},{"w":20,"s":"MA250","v":17.35},{"w":31,"s":"MA250","v":17.93},{"w":40,"s":"MA250","v":18.13},{"w":49,"s":"MA250","v":18.33},{"w":60,"s":"MA250","v":18.52},{"w":70,"s":"MA250","v":18.84},{"w":80,"s":"MA250","v":19.03},{"w":90,"s":"MA250","v":19.23},{"w":100,"s":"MA250","v":19.54},{"w":105,"s":"MA250","v":19.7},{"w":115,"s":"MA250","v":19.77},{"w":125,"s":"MA250","v":19.93},{"w":135,"s":"MA250","v":20.17},{"w":145,"s":"MA250","v":20.4},{"w":155,"s":"MA250","v":20.79},{"w":160,"s":"MA250","v":21.06},{"w":166,"s":"MA250","v":21.3},{"w":176,"s":"MA250","v":21.65},{"w":185,"s":"MA250","v":21.88},{"w":195,"s":"MA250","v":22.27},{"w":205,"s":"MA250","v":22.74},{"w":212,"s":"MA250","v":23.14},{"w":222,"s":"MA250","v":23.62},{"w":232,"s":"MA250","v":24.11},{"w":242,"s":"MA250","v":24.7},{"w":252,"s":"MA250","v":25.28},{"w":265,"s":"MA250","v":25.87},{"w":273,"s":"MA250","v":26.5},{"w":280,"s":"MA250","v":27.32},{"w":287,"s":"MA250","v":29.1},{"w":294,"s":"MA250","v":30.65},{"w":301,"s":"MA250","v":31.94},{"w":308,"s":"MA250","v":33.168}
]},
"layer":[
{"data":{"name":"candles"},"mark":{"type":"rule","strokeWidth":1.3},"encoding":{"x":{"field":"w","type":"quantitative","scale":{"domain":[-0.21,316.92],"nice":false,"zero":false,"padding":0},"axis":{"values":[34.5,86.6,139.5,191.5,243.6,295.7],"labelExpr":"(2021+round((datum.value-34.5)/52))+'/04'","ticks":false,"grid":false,"domainColor":"#b00000","domainWidth":1.2,"labelColor":"#6f7b86","labelFont":"DejaVu Sans","labelFontSize":14.5,"labelBaseline":"middle","labelPadding":9}},"y":{"field":"l","type":"quantitative","scale":{"domain":[15.63,125.65],"nice":false,"zero":false},"axis":{"values":[50,100],"format":".3f","ticks":false,"grid":true,"gridColor":"#800000","gridDash":[5,5],"gridWidth":1,"domainColor":"#c00000","domainWidth":1.2,"labelColor":"#7a8a99","labelFont":"DejaVu Sans","labelFontSize":15,"labelPadding":4}},"y2":{"field":"h"},"stroke":{"condition":{"test":"datum.c>=datum.o","value":"#e83030"},"value":"#00c8d0"}}},
{"data":{"name":"candles"},"mark":{"type":"bar","size":3.6,"strokeWidth":1.2},"encoding":{"x":{"field":"w","type":"quantitative","scale":{"domain":[-0.21,316.92],"nice":false,"zero":false,"padding":0}},"y":{"field":"o","type":"quantitative"},"y2":{"field":"c"},"fill":{"condition":{"test":"datum.c>=datum.o","value":"#000000"},"value":"#00f0f0"},"stroke":{"condition":{"test":"datum.c>=datum.o","value":"#f03030"},"value":"#00f0f0"}}},
{"data":{"name":"ma"},"mark":{"type":"line","interpolate":"monotone","strokeWidth":1.3},"encoding":{"x":{"field":"w","type":"quantitative"},"y":{"field":"v","type":"quantitative"},"color":{"field":"s","type":"nominal","legend":null,"scale":{"domain":["MA10","MA60","MA250","MA40"],"range":["#d8d8d8","#c8c800","#d800d8","#00c800"]}}}},
{"data":{"name":"one"},"mark":{"type":"rect","color":"#ffffff"},"encoding":{"x":{"datum":-11.3,"type":"quantitative"},"x2":{"datum":-9.96},"y":{"datum":13.6,"type":"quantitative"},"y2":{"datum":129.2}}},
{"data":{"name":"one"},"mark":{"type":"rect","color":"#ffffff"},"encoding":{"x":{"datum":-11.3,"type":"quantitative"},"x2":{"datum":316.95},"y":{"datum":127.82,"type":"quantitative"},"y2":{"datum":129.2}}},
{"data":{"name":"one"},"mark":{"type":"rect","color":"#e06a6a"},"encoding":{"x":{"datum":-11.3,"type":"quantitative"},"x2":{"datum":316.95},"y":{"datum":128.88,"type":"quantitative"},"y2":{"datum":129.2}}},
{"data":{"name":"one"},"mark":{"type":"rule","color":"#c00000","strokeWidth":1.2},"encoding":{"x":{"datum":-9.96,"type":"quantitative"},"x2":{"datum":316.92},"y":{"datum":125.65,"type":"quantitative"}}},
{"data":{"name":"one"},"mark":{"type":"rule","color":"#c8c8c8"},"encoding":{"x":{"datum":314.5,"type":"quantitative"},"x2":{"datum":316.92},"y":{"datum":58.91,"type":"quantitative"}}},
{"data":{"name":"one"},"mark":{"type":"rule","color":"#9a9a9a"},"encoding":{"x":{"datum":307.7,"type":"quantitative"},"y":{"datum":15.63,"type":"quantitative"},"y2":{"datum":16.7}}},
{"data":{"values":[{"w":287,"v":121.64,"t":"121.640"},{"w":27,"v":30.063,"t":"30.063"},{"w":144,"v":26.132,"t":"26.132"}]},"mark":{"type":"text","color":"#c83030","font":"DejaVu Sans","fontSize":15,"dy":-8.5,"baseline":"middle"},"encoding":{"x":{"field":"w","type":"quantitative"},"y":{"field":"v","type":"quantitative"},"text":{"field":"t"}}},
{"data":{"values":[{"w":8,"v":21.645,"t":"21.645"},{"w":109,"v":17.545,"t":"17.545"}]},"mark":{"type":"text","color":"#00b8c8","font":"DejaVu Sans","fontSize":15,"dy":9,"baseline":"middle"},"encoding":{"x":{"field":"w","type":"quantitative"},"y":{"field":"v","type":"quantitative"},"text":{"field":"t"}}},
{"data":{"name":"one"},"mark":{"type":"text","color":"#b8b800","font":"Noto Sans CJK SC","fontSize":16,"align":"left","baseline":"middle"},"encoding":{"x":{"datum":-0.07,"type":"quantitative"},"y":{"datum":16.9,"type":"quantitative"},"text":{"value":"309周"}}},
{"data":{"name":"one"},"mark":{"type":"text","color":"#b8b800","font":"DejaVu Sans Mono","fontWeight":"bold","fontSize":14,"align":"right","baseline":"middle"},"encoding":{"x":{"datum":316.5,"type":"quantitative"},"y":{"datum":124.54,"type":"quantitative"},"text":{"value":"Delay"}}},
{"data":{"name":"one"},"mark":{"type":"text","color":"#b8a800","font":"DejaVu Sans, Noto Sans CJK SC","fontSize":16,"align":"left","baseline":"middle"},"encoding":{"x":{"datum":0.63,"type":"quantitative"},"y":{"datum":124.6,"type":"quantitative"},"text":{"value":"MA组合(10,60,250,40,0,0)"}}},
{"data":{"name":"one"},"mark":{"type":"point","shape":"M-1,-0.5L0,0.5L1,-0.5","size":120,"filled":false,"color":"#b8a800","strokeWidth":1.5,"opacity":1},"encoding":{"x":{"datum":31.69,"type":"quantitative"},"y":{"datum":124.6,"type":"quantitative"}}},
{"data":{"name":"one"},"mark":{"type":"text","color":"#ccd4e0","font":"DejaVu Sans","fontSize":16,"align":"left","baseline":"middle"},"encoding":{"x":{"datum":34.19,"type":"quantitative"},"y":{"datum":124.6,"type":"quantitative"},"text":{"value":"MA10 71.691"}}},
{"data":{"name":"one"},"mark":{"type":"text","color":"#c0c000","font":"DejaVu Sans","fontSize":16,"align":"left","baseline":"middle"},"encoding":{"x":{"datum":50.77,"type":"quantitative"},"y":{"datum":124.6,"type":"quantitative"},"text":{"value":"MA60 58.715"}}},
{"data":{"name":"one"},"mark":{"type":"text","color":"#e000e0","font":"DejaVu Sans","fontSize":16,"align":"left","baseline":"middle"},"encoding":{"x":{"datum":67.15,"type":"quantitative"},"y":{"datum":124.6,"type":"quantitative"},"text":{"value":"MA250 33.168"}}},
{"data":{"name":"one"},"mark":{"type":"text","color":"#00d000","font":"DejaVu Sans","fontSize":16,"align":"left","baseline":"middle"},"encoding":{"x":{"datum":84.89,"type":"quantitative"},"y":{"datum":124.6,"type":"quantitative"},"text":{"value":"MA40 69.443"}}},
{"data":{"name":"one"},"mark":{"type":"text","color":"#a0a0a0","font":"DejaVu Sans","fontSize":13,"align":"left","baseline":"middle"},"encoding":{"x":{"datum":-9.54,"type":"quantitative"},"y":{"datum":126.82,"type":"quantitative"},"text":{"value":"▭▭"}}},
{"data":{"name":"one"},"mark":{"type":"point","shape":"circle","size":30,"filled":true,"color":"#e8e800","opacity":1},"encoding":{"x":{"datum":-3.97,"type":"quantitative"},"y":{"datum":126.76,"type":"quantitative"}}},
{"data":{"name":"one"},"mark":{"type":"text","color":"#d8d8d8","font":"DejaVu Sans, Noto Sans CJK SC","fontSize":16,"align":"left","baseline":"middle"},"encoding":{"x":{"datum":-2.86,"type":"quantitative"},"y":{"datum":126.82,"type":"quantitative"},"text":{"value":"伦敦银(贵金属 5121)"}}},
{"data":{"name":"one"},"mark":{"type":"text","color":"#d8d8d8","font":"Noto Sans CJK SC","fontSize":15.5,"align":"left","baseline":"middle"},"encoding":{"x":{"datum":22.49,"type":"quantitative"},"y":{"datum":126.82,"type":"quantitative"},"text":{"value":"周线"}}},
{"data":{"name":"one"},"mark":{"type":"point","shape":"M-1,-0.5L0,0.5L1,-0.5","size":120,"filled":false,"color":"#d8d8d8","strokeWidth":1.5,"opacity":1},"encoding":{"x":{"datum":28.34,"type":"quantitative"},"y":{"datum":126.76,"type":"quantitative"}}},
{"data":{"name":"one"},"mark":{"type":"point","shape":"M-1,0A1,0.1252 0 1,0 1,0A1,0.1252 0 1,0 -1,0Z","size":3359889,"filled":false,"color":"#ffffff","strokeWidth":5.5,"opacity":1},"encoding":{"x":{"datum":125.91,"type":"quantitative"},"y":{"datum":27.25,"type":"quantitative"}}}
]}
